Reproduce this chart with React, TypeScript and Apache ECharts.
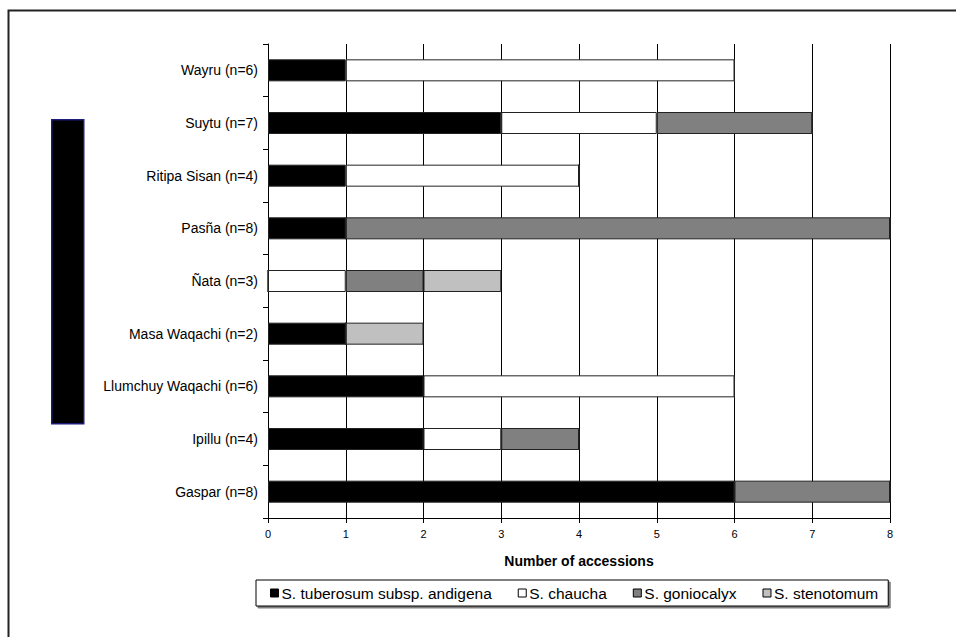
import React, { useEffect, useRef } from "react";
import * as echarts from "echarts";

const categories = [
  "Gaspar (n=8)",
  "Ipillu (n=4)",
  "Llumchuy Waqachi (n=6)",
  "Masa Waqachi (n=2)",
  "Ñata (n=3)",
  "Pasña (n=8)",
  "Ritipa Sisan (n=4)",
  "Suytu (n=7)",
  "Wayru (n=6)",
];
const andigena = [6, 2, 2, 1, 0, 1, 1, 3, 1];
const chaucha = [0, 1, 4, 0, 1, 0, 3, 2, 5];
const goniocalyx = [2, 1, 0, 0, 1, 7, 0, 2, 0];
const stenotomum = [0, 0, 0, 1, 1, 0, 0, 0, 0];
const seriesNames = [
  "S. tuberosum subsp. andigena",
  "S. chaucha",
  "S. goniocalyx",
  "S. stenotomum",
];
const seriesColors = ["#000000", "#ffffff", "#808080", "#c0c0c0"];
const xTicks = [0, 1, 2, 3, 4, 5, 6, 7, 8];
const axisTitle = "Number of accessions";

export default function App() {
  const ref = useRef<HTMLDivElement>(null);
  useEffect(() => {
    if (!ref.current) return;
    const chart = echarts.init(ref.current, undefined, { renderer: "svg" });
    const values = [andigena, chaucha, goniocalyx, stenotomum];
    const font = "Liberation Sans, Arial, sans-serif";
    chart.setOption({
      animation: false,
      backgroundColor: "#ffffff",
      textStyle: { fontFamily: font },
      grid: { left: 268, right: 66, top: 44, bottom: 119, containLabel: false },
      xAxis: {
        type: "value",
        min: xTicks[0],
        max: xTicks[xTicks.length - 1],
        interval: 1,
        name: axisTitle,
        nameLocation: "middle",
        nameGap: 36,
        nameTextStyle: { fontSize: 14, fontWeight: "bold", color: "#000", fontFamily: font },
        axisLine: { show: true, lineStyle: { color: "#000", width: 1 } },
        axisTick: { show: true, length: 5, lineStyle: { color: "#000" } },
        axisLabel: { fontSize: 11, color: "#000", margin: 10, fontFamily: font },
        splitLine: { show: true, lineStyle: { color: "#000", width: 1 } },
      },
      yAxis: {
        type: "category",
        data: categories,
        axisLine: { show: true, lineStyle: { color: "#000", width: 1 } },
        axisTick: { show: true, length: 5, alignWithLabel: false, lineStyle: { color: "#000" } },
        axisLabel: { fontSize: 14, color: "#000", margin: 10, fontFamily: font },
        splitLine: { show: false },
      },
      legend: {
        left: 256,
        top: 580,
        orient: "horizontal",
        icon: "rect",
        itemWidth: 8,
        itemHeight: 8,
        itemGap: 26,
        padding: [5, 10, 5, 14],
        borderColor: "#000",
        borderWidth: 1,
        backgroundColor: "#fff",
        shadowColor: "rgba(0,0,0,0.5)",
        shadowOffsetX: 2,
        shadowOffsetY: 2,
        textStyle: { fontSize: 15.5, color: "#000", fontFamily: font, padding: [0, 0, 0, -2] },
        data: seriesNames.map((n, i) => ({
          name: n,
          itemStyle: { color: seriesColors[i], borderColor: "#000", borderWidth: 1 },
        })),
      },
      graphic: [
        {
          type: "rect",
          left: 6,
          top: 8,
          shape: { width: 1000, height: 700 },
          style: { fill: "none", stroke: "#222", lineWidth: 2 },
          z: 0,
        },
        {
          type: "rect",
          left: 51,
          top: 119,
          shape: { width: 32, height: 304 },
          style: { fill: "#000", stroke: "#1c1c7a", lineWidth: 1.5 },
        },
      ],
      series: seriesNames.map((n, i) => ({
        name: n,
        type: "bar",
        stack: "total",
        barWidth: 22,
        data: values[i],
        itemStyle: { color: seriesColors[i], borderColor: "#222", borderWidth: 1 },
        emphasis: { disabled: true },
      })),
    });
    return () => chart.dispose();
  }, []);
  return (
    <div
      ref={ref}
      style={{ position: "absolute", left: 0, top: 0, width: 956, height: 637 }}
    />
  );
}
